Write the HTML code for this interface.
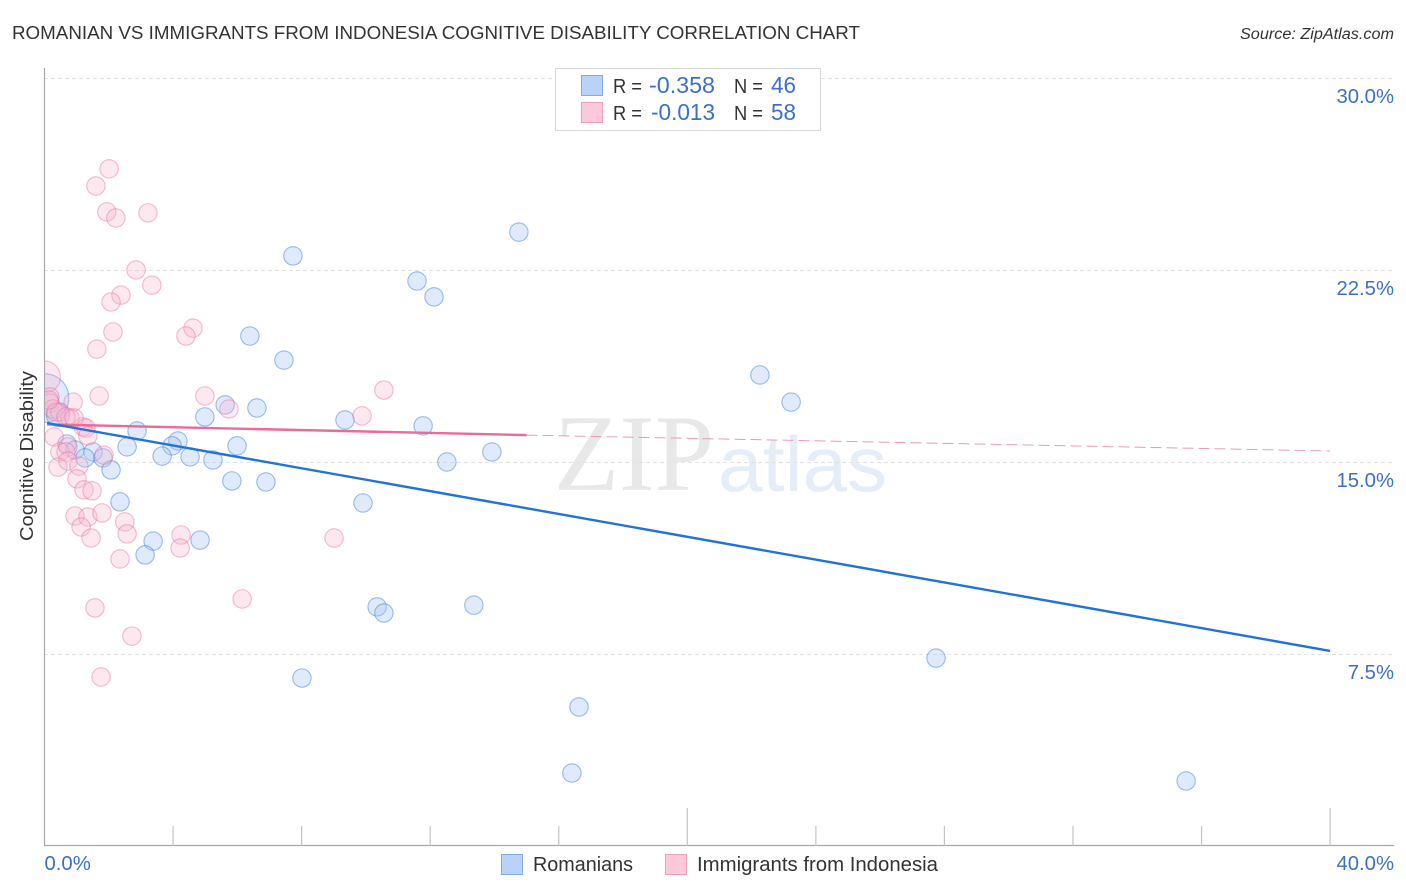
<!DOCTYPE html>
<html lang="en">
<head>
<meta charset="utf-8">
<title>Romanian vs Immigrants from Indonesia Cognitive Disability Correlation Chart</title>
<style>
html,body{margin:0;padding:0;background:#fff;}
svg{display:block;font-family:"Liberation Sans",sans-serif;}
</style>
</head>
<body>
<svg id="chart" xmlns="http://www.w3.org/2000/svg" width="1406" height="892" viewBox="0 0 1406 892">
  <text x="12" y="39" font-size="18.5" fill="#333" textLength="848" lengthAdjust="spacingAndGlyphs">ROMANIAN VS IMMIGRANTS FROM INDONESIA COGNITIVE DISABILITY CORRELATION CHART</text>
  <text x="1394" y="39" font-size="15.5" font-style="italic" fill="#333" text-anchor="end" textLength="154" lengthAdjust="spacingAndGlyphs">Source: ZipAtlas.com</text>

  <g>
    <text x="554" y="490" font-family="'Liberation Serif',serif" font-size="109" fill="#e8e8e8" textLength="160" lengthAdjust="spacingAndGlyphs">ZIP</text>
    <text x="718" y="491" font-size="78" fill="#e5edf9" textLength="169" lengthAdjust="spacingAndGlyphs">atlas</text>
  </g>

  <g id="grid"></g>
  <g id="marks"></g>
  <rect x="0" y="350" width="44" height="100" fill="#fff"/>
  <g id="axes"></g>
  <g id="trends"></g>

  <text transform="translate(33,456) rotate(-90)" font-size="18" fill="#333" text-anchor="middle" textLength="170" lengthAdjust="spacingAndGlyphs">Cognitive Disability</text>

  <g>
    <rect x="555.5" y="68.5" width="265" height="62" fill="#fff" stroke="#d8d8d8" stroke-width="1"/>
    <rect x="581.5" y="75.5" width="21" height="20" fill="#b9d3f8" stroke="#7fabe6" stroke-width="1"/>
    <rect x="581.5" y="102.5" width="21" height="20" fill="#fdc8d9" stroke="#eea0ba" stroke-width="1"/>
    <text x="613" y="93" font-size="20" fill="#333" textLength="29" lengthAdjust="spacingAndGlyphs">R =</text>
    <text x="649" y="93" font-size="23" fill="#3a70cc" textLength="66" lengthAdjust="spacingAndGlyphs">-0.358</text>
    <text x="734" y="93" font-size="20" fill="#333" textLength="29" lengthAdjust="spacingAndGlyphs">N =</text>
    <text x="771" y="93" font-size="23" fill="#3a70cc" textLength="25" lengthAdjust="spacingAndGlyphs">46</text>
    <text x="613" y="120" font-size="20" fill="#333" textLength="29" lengthAdjust="spacingAndGlyphs">R =</text>
    <text x="651" y="120" font-size="23" fill="#3a70cc" textLength="64" lengthAdjust="spacingAndGlyphs">-0.013</text>
    <text x="734" y="120" font-size="20" fill="#333" textLength="29" lengthAdjust="spacingAndGlyphs">N =</text>
    <text x="771" y="120" font-size="23" fill="#3a70cc" textLength="25" lengthAdjust="spacingAndGlyphs">58</text>
  </g>

  <g>
    <rect x="501.5" y="854.5" width="21" height="20" fill="#b9d3f8" stroke="#7fabe6" stroke-width="1"/>
    <text x="533" y="871" font-size="20" fill="#333" textLength="100" lengthAdjust="spacingAndGlyphs">Romanians</text>
    <rect x="665.5" y="854.5" width="21" height="20" fill="#fdc8d9" stroke="#eea0ba" stroke-width="1"/>
    <text x="697" y="871" font-size="20" fill="#333" textLength="241" lengthAdjust="spacingAndGlyphs">Immigrants from Indonesia</text>
  </g>
</svg>
<script>
const yTickValues = [30, 22.5, 15, 7.5];
const yTickLabels = ["30.0%", "22.5%", "15.0%", "7.5%"];
const xTickValues = [4, 8, 12, 16, 20, 24, 28, 32, 36, 40];
const xMajorTicks = [20, 40];
const xEndValues = [0, 40];
const xEndLabels = ["0.0%", "40.0%"];

const romaniansX = [14.76,7.73,11.59,12.12,6.39,7.45,22.26,23.23,5.62,6.61,4.99,9.35,11.78,2.88,4.15,3.97,2.57,5.99,0.70,0.95,1.51,1.82,3.66,4.53,5.24,12.52,13.92,1.26,2.07,5.83,6.89,2.35,9.91,3.38,4.84,3.13,10.35,10.56,13.36,8.01,27.74,16.63,16.41,35.52,0,0.42];
const romaniansY = [23.98,23.05,22.07,21.45,19.92,18.98,18.40,17.34,17.23,17.11,16.76,16.64,16.41,16.21,15.82,15.63,15.59,15.63,15.70,15.47,15.39,15.16,15.23,15.20,15.08,15.00,15.39,15.16,14.69,14.26,14.22,13.44,13.40,11.91,11.95,11.37,9.34,9.10,9.41,6.56,7.34,5.43,2.85,2.54,17.50,16.84];
const romaniansWeight = [1,1,1,1,1,1,1,1,1,1,1,1,1,1,1,1,1,1,1,1,1,1,1,1,1,1,1,1,1,1,1,1,1,1,1,1,1,1,1,1,1,1,1,1,7,1.6];

const indonesiaX = [2.01,1.60,1.94,2.22,3.22,2.85,3.34,2.38,2.07,4.62,4.40,2.13,1.63,0,1.70,4.99,5.74,10.56,9.88,0.89,0.17,0.17,0.26,0.48,0.79,1.20,1.29,1.35,0.30,0.73,0.48,0.67,0.42,0.73,1.07,1.01,1.23,1.48,1.85,0.95,1.35,1.79,1.14,1.45,2.50,2.57,2.35,4.25,4.22,9.01,1.57,6.15,2.72,1.76,0.36,0.14,0.67,0.92];
const indonesiaY = [26.45,25.78,24.77,24.53,24.73,22.50,21.91,21.52,21.25,20.23,19.92,20.08,19.41,18.32,17.58,17.58,17.07,17.81,16.80,17.34,17.54,17.30,17.07,16.95,16.72,16.37,16.33,16.02,15.98,15.59,15.39,15.39,14.80,15.04,14.84,14.34,13.91,13.87,15.27,12.89,12.85,13.01,12.46,12.03,12.66,12.19,11.21,12.15,11.64,12.03,9.30,9.65,8.20,6.60,16.95,17.42,16.76,16.72];
const indonesiaWeight = [1,1,1,1,1,1,1,1,1,1,1,1,1,3,1,1,1,1,1,1,1,1,1,1,1,1,1,1,1,1,1,1,1,1,1,1,1,1,1,1,1,1,1,1,1,1,1,1,1,1,1,1,1,1,1,1,1,1];

const romaniansTrendX = [0.08, 40];
const romaniansTrendY = [16.52, 7.62];
const indonesiaTrendX = [0.08, 15];
const indonesiaTrendY = [16.47, 16.05];
const indonesiaForecastX = [15, 40];
const indonesiaForecastY = [16.05, 15.43];

const NS = "http://www.w3.org/2000/svg";
const xScale = v => 44.5 + v * 32.14;
const yScale = v => 846 - v * 25.6;
const radius = w => 9.2 * Math.sqrt(w);

function make(parent, tag, attrs, text) {
  const el = document.createElementNS(NS, tag);
  for (const k in attrs) el.setAttribute(k, attrs[k]);
  if (text !== undefined) el.textContent = text;
  parent.appendChild(el);
  return el;
}

const grid = document.getElementById("grid");
const axes = document.getElementById("axes");
const marks = document.getElementById("marks");
const trends = document.getElementById("trends");

yTickValues.forEach((v, i) => {
  const line = make(grid, "line", {x1: 44, x2: 1393, y1: yScale(v) + 0.5, y2: yScale(v) + 0.5, stroke: "#e2e2e2", "stroke-width": 1, "stroke-dasharray": "4 3"});
  
  
  const label = make(axes, "text", {x: 1394, y: yScale(v) + 25, "font-size": 20.3, fill: "#3a70cc", "text-anchor": "end"}, yTickLabels[i]);
  
  
});

const yAxisLine = make(axes, "line", {x1: 44.5, x2: 44.5, y1: 68, y2: 846, stroke: "#aaaaaa", "stroke-width": 1.2});


const xAxisLine = make(axes, "line", {x1: 44, x2: 1394, y1: 845.5, y2: 845.5, stroke: "#aaaaaa", "stroke-width": 1.2});



xTickValues.forEach(v => {
  const top = xMajorTicks.includes(v) ? 808 : 826;
  const tick = make(axes, "line", {x1: xScale(v), x2: xScale(v), y1: top, y2: 846, stroke: "#c4c4c4", "stroke-width": 1.2});
  
  
});

xEndValues.forEach((v, i) => {
  const label = make(axes, "text", {x: i === 0 ? xScale(v) : 1394, y: 870, "font-size": 20.3, fill: "#3a70cc", "text-anchor": i === 0 ? "start" : "end"}, xEndLabels[i]);
  
  
});

romaniansX.forEach((x, i) => {
  const c = make(marks, "circle", {cx: xScale(x), cy: yScale(romaniansY[i]), r: radius(romaniansWeight[i]), fill: "rgba(165,200,248,0.36)", stroke: "rgba(60,125,220,0.5)", "stroke-width": 1.1});
  
  
});

indonesiaX.forEach((x, i) => {
  const c = make(marks, "circle", {cx: xScale(x), cy: yScale(indonesiaY[i]), r: radius(indonesiaWeight[i]), fill: "rgba(250,185,208,0.32)", stroke: "rgba(232,105,150,0.45)", "stroke-width": 1.1});
  
  
});

const forecast = make(trends, "line", {x1: xScale(indonesiaForecastX[0]), y1: yScale(indonesiaForecastY[0]), x2: xScale(indonesiaForecastX[1]), y2: yScale(indonesiaForecastY[1]), stroke: "#eb9ab6", "stroke-width": 1, "stroke-dasharray": "11 5"});



const pinkTrend = make(trends, "line", {x1: xScale(indonesiaTrendX[0]), y1: yScale(indonesiaTrendY[0]), x2: xScale(indonesiaTrendX[1]), y2: yScale(indonesiaTrendY[1]), stroke: "#ec6a98", "stroke-width": 2.4});



const blueTrend = make(trends, "line", {x1: xScale(romaniansTrendX[0]), y1: yScale(romaniansTrendY[0]), x2: xScale(romaniansTrendX[1]), y2: yScale(romaniansTrendY[1]), stroke: "#2272d8", "stroke-width": 2.4});


</script>
</body>
</html>
